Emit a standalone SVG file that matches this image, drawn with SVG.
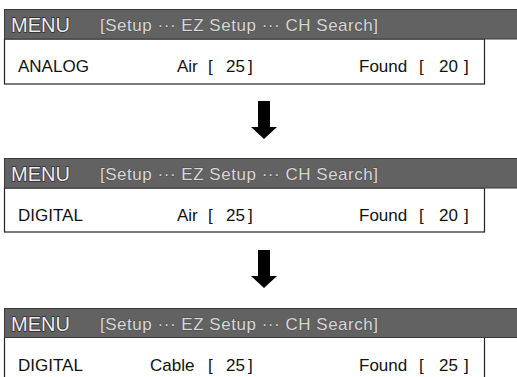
<svg xmlns="http://www.w3.org/2000/svg" width="517" height="377" viewBox="0 0 517 377">
<style>
.hdr{fill:#626262;stroke:#3a3a3a;stroke-width:1}
.body{fill:#fff;stroke:#222;stroke-width:1.2}
.menu{font-family:"Liberation Sans",Arial,sans-serif;font-size:20px;fill:#eeeeee;stroke:#2a2a2a;stroke-width:1.4;paint-order:stroke}
.path{font-family:"Liberation Sans",Arial,sans-serif;font-size:17px;fill:#d8d8d8;stroke:#4a4a4a;stroke-width:0.8;paint-order:stroke}
.t{font-family:"Liberation Sans",Arial,sans-serif;font-size:17px;fill:#111}
.arrow{fill:#000}
</style>
<g id="panel1">
<rect class="body" x="4.5" y="39" width="480" height="45"/>
<rect class="hdr" x="4.5" y="9.5" width="514" height="29.5"/>
<text class="menu" x="11" y="32">MENU</text>
<text class="path" x="100" y="31" textLength="278">[Setup ··· EZ Setup ··· CH Search]</text>
<text class="t" x="18" y="72">ANALOG</text>
<text class="t" x="177" y="72">Air</text>
<text class="t" x="208" y="72">[</text>
<text class="t" x="226" y="72">25</text>
<text class="t" x="248" y="72">]</text>
<text class="t" x="359" y="72">Found</text>
<text class="t" x="419" y="72">[</text>
<text class="t" x="439" y="72">20</text>
<text class="t" x="464" y="72">]</text>
</g>
<g id="panel2">
<rect class="body" x="4.5" y="188" width="480" height="44"/>
<rect class="hdr" x="4.5" y="158.5" width="514" height="29.5"/>
<text class="menu" x="11" y="181">MENU</text>
<text class="path" x="100" y="180" textLength="278">[Setup ··· EZ Setup ··· CH Search]</text>
<text class="t" x="18" y="221">DIGITAL</text>
<text class="t" x="177" y="221">Air</text>
<text class="t" x="208" y="221">[</text>
<text class="t" x="226" y="221">25</text>
<text class="t" x="248" y="221">]</text>
<text class="t" x="359" y="221">Found</text>
<text class="t" x="419" y="221">[</text>
<text class="t" x="439" y="221">20</text>
<text class="t" x="464" y="221">]</text>
</g>
<g id="panel3">
<path d="M4.5 337 V377 M484.5 337 V377" stroke="#222" stroke-width="1.2" fill="none"/>
<rect class="hdr" x="4.5" y="308.5" width="514" height="29"/>
<text class="menu" x="11" y="331">MENU</text>
<text class="path" x="100" y="330" textLength="278">[Setup ··· EZ Setup ··· CH Search]</text>
<text class="t" x="18" y="371">DIGITAL</text>
<text class="t" x="150" y="371">Cable</text>
<text class="t" x="208" y="371">[</text>
<text class="t" x="226" y="371">25</text>
<text class="t" x="248" y="371">]</text>
<text class="t" x="359" y="371">Found</text>
<text class="t" x="419" y="371">[</text>
<text class="t" x="439" y="371">25</text>
<text class="t" x="464" y="371">]</text>
</g>
<g id="connectors">
<polygon class="arrow" points="258,101 270,101 270,127 277,127 264,139 251,127 258,127"/>
<polygon class="arrow" points="258,250 270,250 270,276 277,276 264,288 251,276 258,276"/>
</g>
</svg>
